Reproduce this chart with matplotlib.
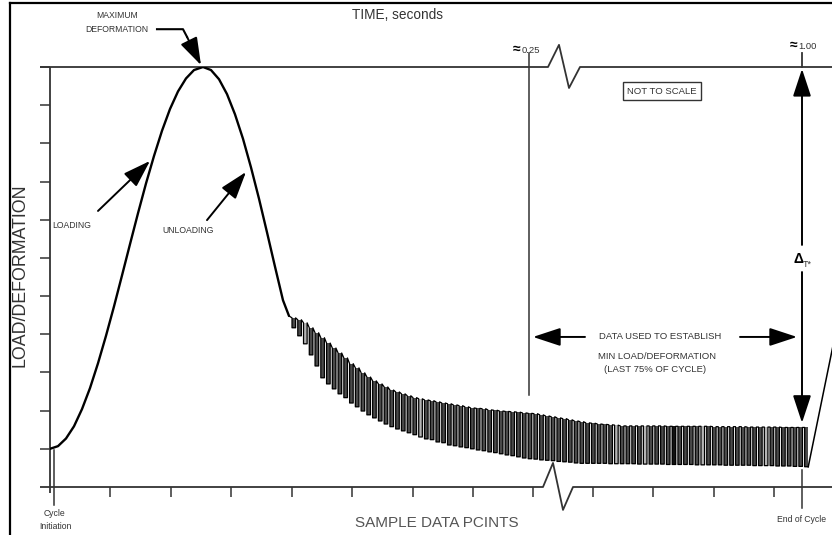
import matplotlib
matplotlib.use("Agg")
import matplotlib.pyplot as plt
import numpy as np

# load scale: 0 = seating level, 100 = maximum deformation
# x scale: sample position along the cycle (0 = cycle initiation axis)

# loading / unloading pulse
curve_x = [0, 8, 16, 24, 32, 40, 48, 56, 64, 72, 80, 88, 96, 104, 112, 120,
           128, 136, 144, 153, 161, 169, 177, 185, 193, 201, 209, 217, 225,
           233, 239]
curve_y = [0, 0.7, 2.7, 5.9, 10.4, 15.9, 22.4, 29.6, 37.3, 45.4, 53.6, 61.7,
           69.5, 76.7, 83.3, 89.0, 93.6, 97.0, 99.2, 100, 99.2, 96.8, 92.9,
           87.6, 81.2, 73.7, 65.5, 56.7, 47.7, 38.9, 34.8]

# rest period: top and bottom of every sampled oscillation
osc_top = [34.3, 33.8, 33.0, 31.7, 30.4, 29.1, 27.7, 26.4, 25.1, 23.8,
           22.3, 21.2, 19.9, 18.8, 17.8, 17.0, 16.2, 15.4, 14.9, 14.4,
           13.9, 13.4, 13.1, 12.8, 12.6, 12.3, 12.0, 11.8, 11.5, 11.3,
           11.0, 10.7, 10.6, 10.5, 10.2, 10.1, 9.9, 9.8, 9.7, 9.6,
           9.4, 9.3, 9.2, 8.9, 8.6, 8.4, 8.1, 7.9, 7.6, 7.3,
           7.1, 6.8, 6.7, 6.5, 6.4, 6.3, 6.2, 6.0, 6.0, 6.0,
           6.0, 6.0, 6.0, 6.0, 6.0, 5.9, 5.9, 5.9, 5.9, 5.9,
           5.9, 5.9, 5.9, 5.8, 5.8, 5.8, 5.8, 5.8, 5.8, 5.7,
           5.7, 5.7, 5.7, 5.7, 5.7, 5.6, 5.6, 5.6, 5.6, 5.6]
osc_bot = [31.7, 29.6, 27.5, 24.6, 21.7, 18.6, 17.0, 15.7, 14.4, 13.4,
           12.0, 11.0, 9.9, 8.9, 8.1, 7.3, 6.5, 5.8, 5.2, 4.7,
           4.2, 3.7, 3.1, 2.6, 2.4, 1.8, 1.6, 1.0, 0.8, 0.5,
           0.3, 0.0, -0.3, -0.5, -0.8, -1.0, -1.3, -1.6, -1.8, -2.1,
           -2.4, -2.6, -2.7, -2.9, -3.0, -3.1, -3.3, -3.4, -3.5, -3.7,
           -3.8, -3.8, -3.8, -3.8, -3.8, -3.9, -3.9, -3.9, -3.9, -3.9,
           -4.0, -4.0, -4.0, -4.0, -4.0, -4.1, -4.1, -4.1, -4.1, -4.1,
           -4.2, -4.2, -4.2, -4.2, -4.2, -4.3, -4.3, -4.3, -4.3, -4.3,
           -4.4, -4.4, -4.4, -4.4, -4.5, -4.5, -4.5, -4.6, -4.6, -4.7]
osc_start = 242
osc_step = 5.76
light_cols = [2, 22, 56, 61, 71, 82]
dark_cols = [66]

x_ticks = [60, 121, 181, 242, 302, 363, 423, 483, 543, 603, 664, 724]
y_ticks = list(range(0, 101, 10))
cycle_start = 4
cycle_end = 752
t_quarter = 478.5
t_end = 752

INK = "#333333"
NARROW = ["Liberation Sans Narrow", "Liberation Sans", "DejaVu Sans"]
SANS = ["Liberation Sans", "DejaVu Sans"]

fig = plt.figure(figsize=(8.32, 5.35), dpi=100)
ax = fig.add_axes([50 / 832, 48 / 535, 782 / 832, 420 / 535])
ax.set_xlim(0, 782)
ax.set_ylim(-10, 100)
for s in ax.spines.values():
    s.set_visible(False)
ax.set_xticks(x_ticks)
ax.set_yticks(y_ticks)
ax.set_xticklabels([])
ax.set_yticklabels([])
ax.tick_params(axis="both", direction="out", length=7.2, width=1.1, color=INK)

kw = dict(color=INK, lw=1.3, clip_on=False, solid_capstyle="butt")
# axes lines with the "not to scale" breaks
ax.plot([-10, 498, 509, 519, 530, 782], [100, 100, 105.8, 94.5, 100, 100], **kw)
ax.plot([-10, 493, 503, 513, 523, 782], [-10, -10, -3.7, -16.0, -10, -10], **kw)
ax.plot([0, 0], [100, -11.6], **kw)
ax.plot([cycle_start, cycle_start], [-0.3, -14.7], color=INK, lw=1.1, clip_on=False)
ax.plot([cycle_end, cycle_end], [-5.5, -15.4], color=INK, lw=1.1, clip_on=False)
ax.plot([t_quarter, t_quarter], [103.7, 14.1], color=INK, lw=1.1, clip_on=False)
ax.plot([t_end, t_end], [103.7, 100], color=INK, lw=1.3, clip_on=False)

# pulse
ax.plot(curve_x, curve_y, color="black", lw=1.7, solid_capstyle="round")

# oscillating rest period
n = len(osc_top)
xs = osc_start + osc_step * np.arange(n)
w = 3.6
top = np.array(osc_top)
bot = np.array(osc_bot)
shade = ["#4a4a4a"] * n
for i in light_cols:
    shade[i] = "#b5b5b5"
for i in dark_cols:
    shade[i] = "#111111"
ax.bar(xs + w / 2, top - bot, bottom=bot, width=w, color=shade, lw=0)
px, py = [curve_x[-1]], [curve_y[-1]]
for i in range(n):
    px += [xs[i], xs[i], xs[i] + w, xs[i] + w]
    py += [top[i], bot[i], bot[i], top[i]]
ax.plot(px[:-1], py[:-1], color="black", lw=0.9)
# start of the next cycle
ax.plot([xs[-1] + w, 790], [bot[-1], 36], color="black", lw=1.1)

# annotations
arrow = dict(arrowstyle="-|>,head_length=0.85,head_width=0.28", color="black",
             lw=1.4, mutation_scale=20, shrinkA=0, shrinkB=0)
ax.plot([107, 133, 137], [109.9, 109.9, 107.9], color="black", lw=1.5, clip_on=False)
ax.annotate("", xy=(151, 100.5), xytext=(137, 107.9), arrowprops=arrow,
            annotation_clip=False)
ax.annotate("", xy=(100, 75.4), xytext=(48, 62.3), arrowprops=arrow)
ax.annotate("", xy=(196, 72.5), xytext=(157, 59.9), arrowprops=arrow)
ax.annotate("", xy=(t_end, 99.5), xytext=(t_end, 53.4), arrowprops=arrow)
ax.annotate("", xy=(t_end, 6.8), xytext=(t_end, 46.3), arrowprops=arrow)
ax.annotate("", xy=(483, 29.3), xytext=(535, 29.3), arrowprops=arrow)
ax.annotate("", xy=(747, 29.3), xytext=(690, 29.3), arrowprops=arrow)

small = dict(family=NARROW, fontsize=6.2, color=INK)
ax.text(67, 113.5, "MAXIMUM", ha="center", va="center", **small)
ax.text(67, 109.8, "DEFORMATION", ha="center", va="center", **small)
ax.text(2, 58.4, "LOADING", ha="left", va="center", **small)
ax.text(112, 57.1, "UNLOADING", ha="left", va="center", **small)
ax.text(5, -16.9, "Cycle", ha="center", va="center", **small)
ax.text(5, -20.3, "Initiation", ha="center", va="center", **small)
ax.text(752, -18.6, "End of Cycle", ha="center", va="center", **small)

mid = dict(family=SANS, fontsize=6.8, color=INK, ha="center", va="center")
ax.text(610, 29.3, "DATA USED TO ESTABLISH", **mid)
ax.text(607, 24.1, "MIN LOAD/DEFORMATION", **mid)
ax.text(605, 20.7, "(LAST 75% OF CYCLE)", **mid)
ax.text(612, 93.7, "NOT TO SCALE", **mid,
        bbox=dict(boxstyle="square,pad=0.45", fc="white", ec=INK, lw=1.0))
ax.text(467, 104.8, "≈", family=SANS, fontsize=10, fontweight="bold",
        color="black", ha="center", va="center")
ax.text(481, 104.4, "0.25", **mid)
ax.text(744, 105.8, "≈", family=SANS, fontsize=10, fontweight="bold",
        color="black", ha="center", va="center")
ax.text(757, 105.4, "1.00", **mid)
ax.text(t_end - 3, 49.8, "Δ", family=SANS, fontsize=10, fontweight="bold",
        color="black", ha="center", va="center")
ax.text(t_end + 5, 48.2, "T*", family=SANS, fontsize=6.5, color=INK,
        ha="center", va="center")

ax.text(347, 113.6, "TIME, seconds", family=NARROW, fontsize=9.8, color=INK,
        ha="center", va="center")
ax.text(387, -19.3, "SAMPLE DATA PCINTS", family=SANS, fontsize=11,
        color="#555555", ha="center", va="center")
ax.text(-30, 45.5, "LOAD/DEFORMATION", family=SANS, fontsize=12.8, color=INK,
        rotation=90, ha="center", va="center")

# frame of the original figure
fig.add_artist(plt.Line2D([10 / 832, 10 / 832], [0, 532 / 535], color="black", lw=1.6))
fig.add_artist(plt.Line2D([10 / 832, 1], [532 / 535, 532 / 535], color="black", lw=1.6))

fig.savefig("out.png", dpi=100)
